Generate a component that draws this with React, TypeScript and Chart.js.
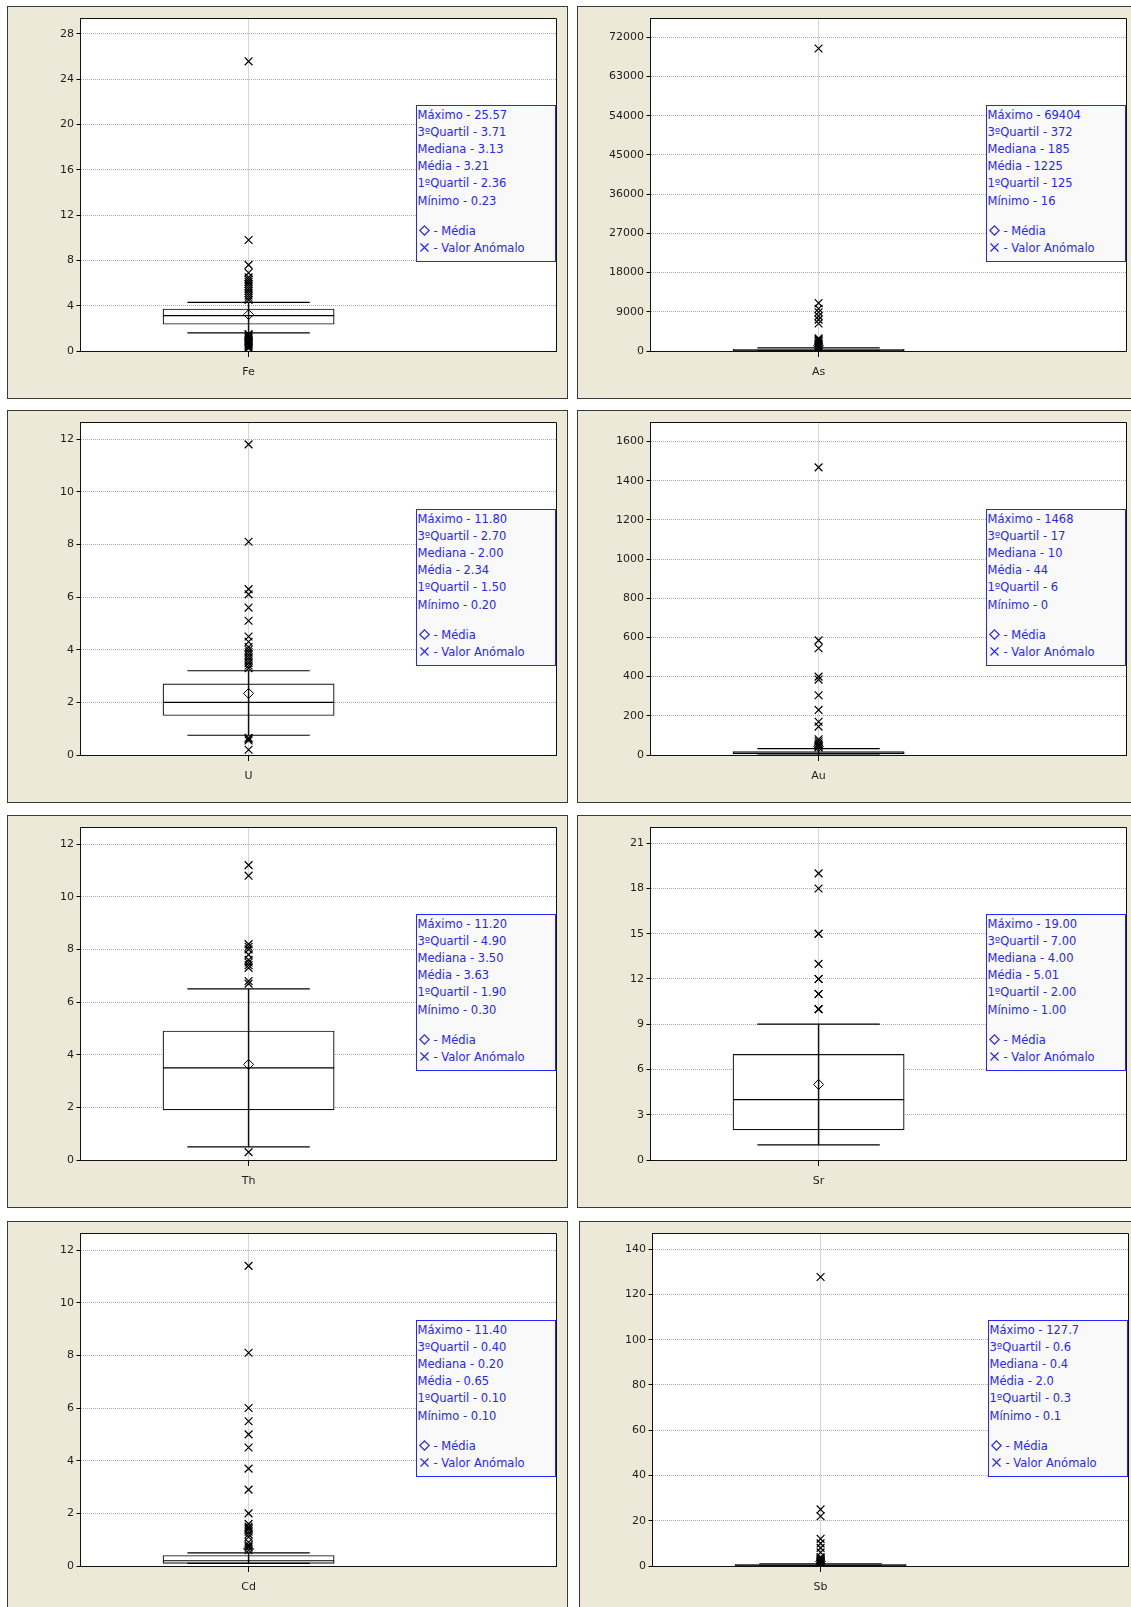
import React, { useEffect, useRef } from 'react';
import { Chart, registerables } from 'chart.js';
Chart.register(...registerables);

// ---------- data ----------
const ELEMENTS = ['Fe', 'As', 'U', 'Au', 'Th', 'Sr', 'Cd', 'Sb'];
const STAT_LABELS = ['Máximo', '3ºQuartil', 'Mediana', 'Média', '1ºQuartil', 'Mínimo'];

// box = [1º quartil, mediana, 3º quartil]; whiskers = [low, high]
const FE_BOX = [2.36, 3.13, 3.71];
const FE_WHISKERS = [1.6, 4.3];
const FE_MEAN = 3.21;
const FE_OUTLIERS = [25.57, 9.8, 7.6, 6.9, 6.5, 6.3, 6.1, 5.9, 5.7, 5.5, 5.3, 5.1, 4.9, 4.7, 4.5, 1.5, 1.4, 1.3, 1.2, 1.1, 1.0, 0.9, 0.8, 0.7, 0.6, 0.5, 0.4, 0.3, 0.23];
const FE_TICKS = [0, 4, 8, 12, 16, 20, 24, 28];
const FE_MAX = 29.35;
const FE_LEGEND = ['25.57', '3.71', '3.13', '3.21', '2.36', '0.23'];

const AS_BOX = [125, 185, 372];
const AS_WHISKERS = [16, 740];
const AS_MEAN = 1225;
const AS_OUTLIERS = [69404, 11000, 9700, 8900, 8000, 7200, 6300, 2900, 2600, 2300, 2000, 1700, 1400, 1100, 900, 800];
const AS_TICKS = [0, 9000, 18000, 27000, 36000, 45000, 54000, 63000, 72000];
const AS_MAX = 76300;
const AS_LEGEND = ['69404', '372', '185', '1225', '125', '16'];

const U_BOX = [1.5, 2.0, 2.7];
const U_WHISKERS = [0.75, 3.2];
const U_MEAN = 2.34;
const U_OUTLIERS = [11.8, 8.1, 6.3, 6.1, 5.6, 5.1, 4.5, 4.3, 4.1, 4.0, 3.9, 3.8, 3.7, 3.6, 3.5, 3.4, 3.3, 0.65, 0.6, 0.55, 0.2];
const U_TICKS = [0, 2, 4, 6, 8, 10, 12];
const U_MAX = 12.63;
const U_LEGEND = ['11.80', '2.70', '2.00', '2.34', '1.50', '0.20'];

const AU_BOX = [6, 10, 17];
const AU_WHISKERS = [0, 33];
const AU_MEAN = 44;
const AU_OUTLIERS = [1468, 585, 545, 400, 385, 305, 230, 170, 145, 80, 70, 60, 52, 47, 42, 38];
const AU_TICKS = [0, 200, 400, 600, 800, 1000, 1200, 1400, 1600];
const AU_MAX = 1697;
const AU_LEGEND = ['1468', '17', '10', '44', '6', '0'];

const TH_BOX = [1.9, 3.5, 4.9];
const TH_WHISKERS = [0.5, 6.5];
const TH_MEAN = 3.63;
const TH_OUTLIERS = [11.2, 10.8, 8.2, 8.1, 8.0, 7.8, 7.6, 7.5, 7.4, 7.3, 6.8, 6.7, 0.3];
const TH_TICKS = [0, 2, 4, 6, 8, 10, 12];
const TH_MAX = 12.63;
const TH_LEGEND = ['11.20', '4.90', '3.50', '3.63', '1.90', '0.30'];

const SR_BOX = [2.0, 4.0, 7.0];
const SR_WHISKERS = [1.0, 9.0];
const SR_MEAN = 5.01;
const SR_OUTLIERS = [19, 18, 15, 15, 13, 12, 12, 11, 11, 10, 10];
const SR_TICKS = [0, 3, 6, 9, 12, 15, 18, 21];
const SR_MAX = 22.04;
const SR_LEGEND = ['19.00', '7.00', '4.00', '5.01', '2.00', '1.00'];

const CD_BOX = [0.1, 0.2, 0.4];
const CD_WHISKERS = [0.1, 0.5];
const CD_MEAN = 0.65;
const CD_OUTLIERS = [11.4, 8.1, 6.0, 5.5, 5.0, 4.5, 3.7, 2.9, 2.0, 1.6, 1.5, 1.45, 1.4, 1.3, 1.2, 1.1, 0.9, 0.8, 0.75, 0.7, 0.6];
const CD_TICKS = [0, 2, 4, 6, 8, 10, 12];
const CD_MAX = 12.63;
const CD_LEGEND = ['11.40', '0.40', '0.20', '0.65', '0.10', '0.10'];

const SB_BOX = [0.3, 0.4, 0.6];
const SB_WHISKERS = [0.1, 1.0];
const SB_MEAN = 2.0;
const SB_OUTLIERS = [127.7, 25, 22, 12, 10, 8, 6, 4, 3.5, 3, 2.6, 2.3, 2.0, 1.8, 1.6, 1.4, 1.2, 1.1];
const SB_TICKS = [0, 20, 40, 60, 80, 100, 120, 140];
const SB_MAX = 146.9;
const SB_LEGEND = ['127.7', '0.6', '0.4', '2.0', '0.3', '0.1'];

// ---------- style / layout ----------
const FONT = '"DejaVu Sans", Verdana, sans-serif';
const BEIGE = '#ECE9D8';
const PANEL_BORDER = '#3a3a3a';
const GRID_COLOR = '#ababab';
const TICK_COLOR = '#1e1e1e';
const LEGEND_BLUE = '#2626ff';
const PANEL_W = 561;
const PANEL_H = 393;
const Y_AXIS_W = 73.5;
const PAD_TOP = 12.5;
const PAD_RIGHT = 11.5;
const X_AXIS_H = PANEL_H - PAD_TOP - 332.5;
const X_MAX = 1.832;
const BOX_HALF = 85.6;
const CAP_HALF = 61.2;

type Panel = {
  name: string; box: number[]; whiskers: number[]; mean: number; outliers: number[];
  ticks: number[]; max: number; legend: string[]; left: number; top: number;
};

const PANELS: Panel[] = [
  { name: ELEMENTS[0], box: FE_BOX, whiskers: FE_WHISKERS, mean: FE_MEAN, outliers: FE_OUTLIERS, ticks: FE_TICKS, max: FE_MAX, legend: FE_LEGEND, left: 7, top: 6 },
  { name: ELEMENTS[1], box: AS_BOX, whiskers: AS_WHISKERS, mean: AS_MEAN, outliers: AS_OUTLIERS, ticks: AS_TICKS, max: AS_MAX, legend: AS_LEGEND, left: 577, top: 6 },
  { name: ELEMENTS[2], box: U_BOX, whiskers: U_WHISKERS, mean: U_MEAN, outliers: U_OUTLIERS, ticks: U_TICKS, max: U_MAX, legend: U_LEGEND, left: 7, top: 410 },
  { name: ELEMENTS[3], box: AU_BOX, whiskers: AU_WHISKERS, mean: AU_MEAN, outliers: AU_OUTLIERS, ticks: AU_TICKS, max: AU_MAX, legend: AU_LEGEND, left: 577, top: 410 },
  { name: ELEMENTS[4], box: TH_BOX, whiskers: TH_WHISKERS, mean: TH_MEAN, outliers: TH_OUTLIERS, ticks: TH_TICKS, max: TH_MAX, legend: TH_LEGEND, left: 7, top: 815 },
  { name: ELEMENTS[5], box: SR_BOX, whiskers: SR_WHISKERS, mean: SR_MEAN, outliers: SR_OUTLIERS, ticks: SR_TICKS, max: SR_MAX, legend: SR_LEGEND, left: 577, top: 815 },
  { name: ELEMENTS[6], box: CD_BOX, whiskers: CD_WHISKERS, mean: CD_MEAN, outliers: CD_OUTLIERS, ticks: CD_TICKS, max: CD_MAX, legend: CD_LEGEND, left: 7, top: 1221 },
  { name: ELEMENTS[7], box: SB_BOX, whiskers: SB_WHISKERS, mean: SB_MEAN, outliers: SB_OUTLIERS, ticks: SB_TICKS, max: SB_MAX, legend: SB_LEGEND, left: 579, top: 1221 },
];

const align = (v: number) => Math.round(v - 0.5) + 0.5;

const panelPlugin = {
  id: 'panelFrame',
  beforeDraw(chart: any) {
    const { ctx, width, height, chartArea: a } = chart;
    ctx.save();
    ctx.fillStyle = BEIGE;
    ctx.fillRect(0, 0, width, height);
    ctx.strokeStyle = PANEL_BORDER;
    ctx.lineWidth = 1;
    ctx.strokeRect(0.5, 0.5, width - 1, height - 1);
    ctx.fillStyle = '#ffffff';
    ctx.fillRect(a.left, a.top, a.right - a.left, a.bottom - a.top);
    ctx.restore();
  },
  afterDraw(chart: any) {
    const { ctx, chartArea: a } = chart;
    const l = align(a.left), t = align(a.top), r = align(a.right), b = align(a.bottom);
    ctx.save();
    ctx.strokeStyle = '#111';
    ctx.lineWidth = 1;
    ctx.beginPath();
    ctx.moveTo(l, t); ctx.lineTo(r, t); ctx.lineTo(r, b);
    ctx.stroke();
    ctx.restore();
  },
};

function BoxPanel({ p }: { p: Panel }) {
  const ref = useRef<HTMLCanvasElement | null>(null);
  useEffect(() => {
    const canvas = ref.current;
    if (!canvas) return;
    const pt = (v: number) => ({ x: 0, y: v });
    const chart = new Chart(canvas, {
      type: 'scatter',
      data: {
        datasets: [
          { type: 'scatter', label: 'Média', data: [pt(p.mean)], pointStyle: 'rectRot', pointRadius: 5, borderColor: '#000', pointBorderColor: '#000', backgroundColor: 'rgba(0,0,0,0)', pointBackgroundColor: 'rgba(0,0,0,0)', pointBorderWidth: 1 } as any,
          { type: 'scatter', label: 'Valor Anómalo', data: p.outliers.map(pt), pointStyle: 'crossRot', pointRadius: 5.5, borderColor: '#000', pointBorderColor: '#000', pointBorderWidth: 1.2 } as any,
          { type: 'scatter', label: 'whisker caps', data: p.whiskers.map(pt), pointStyle: 'line', pointRadius: CAP_HALF, borderColor: '#000', pointBorderColor: '#000', pointBorderWidth: 1.2 } as any,
          { type: 'scatter', label: 'Mediana', data: [pt(p.box[1])], pointStyle: 'line', pointRadius: BOX_HALF, borderColor: '#000', pointBorderColor: '#000', pointBorderWidth: 1.2 } as any,
          { type: 'line', label: 'stem', data: p.whiskers.map(pt), borderColor: '#111', borderWidth: 1.5, pointRadius: 0, fill: false } as any,
          { type: 'bar', label: 'box', data: [{ x: 0, y: [p.box[0], p.box[2]] }], backgroundColor: '#ffffff', borderColor: '#111', borderWidth: 1.2, borderSkipped: false, barThickness: BOX_HALF * 2 } as any,
        ],
      },
      options: {
        animation: false,
        responsive: false,
        maintainAspectRatio: false,
        events: [],
        layout: { autoPadding: false, padding: { left: 0, top: PAD_TOP, right: PAD_RIGHT, bottom: 0 } },
        plugins: { legend: { display: false }, tooltip: { enabled: false }, title: { display: false } },
        scales: {
          x: {
            type: 'linear', min: -1, max: X_MAX, offset: false,
            afterBuildTicks: (s: any) => { s.ticks = [{ value: 0 }]; },
            afterFit: (s: any) => { s.height = X_AXIS_H; },
            ticks: { callback: () => p.name, font: { family: FONT, size: 11 }, color: TICK_COLOR, padding: 9, maxRotation: 0, autoSkip: false },
            grid: { offset: false, color: GRID_COLOR, lineWidth: 1, drawTicks: true, tickLength: 6, tickColor: '#000', tickWidth: 1 },
            border: { display: true, color: '#111', width: 1, dash: [1, 1] },
          },
          y: {
            type: 'linear', min: 0, max: p.max, offset: false,
            afterBuildTicks: (s: any) => { s.ticks = p.ticks.map((v) => ({ value: v })); },
            afterFit: (s: any) => { s.width = Y_AXIS_W; },
            ticks: { callback: (v: any) => String(v), font: { family: FONT, size: 11 }, color: TICK_COLOR, padding: 2.5, autoSkip: false },
            grid: { offset: false, color: GRID_COLOR, lineWidth: 1, drawTicks: true, tickLength: 4, tickColor: '#000', tickWidth: 1 },
            border: { display: true, color: '#111', width: 1, dash: [1, 1] },
          },
        },
      } as any,
      plugins: [panelPlugin],
    });
    return () => chart.destroy();
  }, [p]);

  return (
    <div style={{ position: 'absolute', left: p.left, top: p.top, width: PANEL_W, height: PANEL_H }}>
      <canvas ref={ref} width={PANEL_W} height={PANEL_H} style={{ display: 'block', width: PANEL_W, height: PANEL_H }} />
      <div
        style={{
          position: 'absolute', left: 408.5, top: 98.5, width: 140, height: 157, boxSizing: 'border-box',
          border: `1px solid ${LEGEND_BLUE}`, background: '#f9f9f9', color: LEGEND_BLUE,
          fontFamily: FONT, fontSize: 11.5, lineHeight: '17.2px', padding: '1px 0 0 1px', whiteSpace: 'nowrap',
        }}
      >
        {STAT_LABELS.map((l, i) => (
          <div key={i}>{l} - {p.legend[i]}</div>
        ))}
        <div style={{ height: 13.5 }} />
        <div>
          <svg width="11" height="11" viewBox="0 0 11 11" style={{ verticalAlign: '-1px', marginRight: 4, marginLeft: 1 }}>
            <path d="M5.5 0.8 L10.2 5.5 L5.5 10.2 L0.8 5.5 Z" fill="none" stroke={LEGEND_BLUE} strokeWidth="1.2" />
          </svg>
          - Média
        </div>
        <div>
          <svg width="11" height="11" viewBox="0 0 11 11" style={{ verticalAlign: '-1px', marginRight: 4, marginLeft: 1 }}>
            <path d="M1.5 1.5 L9.5 9.5 M9.5 1.5 L1.5 9.5" fill="none" stroke={LEGEND_BLUE} strokeWidth="1.2" />
          </svg>
          - Valor Anómalo
        </div>
      </div>
    </div>
  );
}

export default function App() {
  return (
    <div style={{ position: 'absolute', left: 0, top: 0, width: 1131, height: 1607, overflow: 'hidden', background: '#ffffff' }}>
      {PANELS.map((p) => (
        <BoxPanel key={p.name} p={p} />
      ))}
    </div>
  );
}
